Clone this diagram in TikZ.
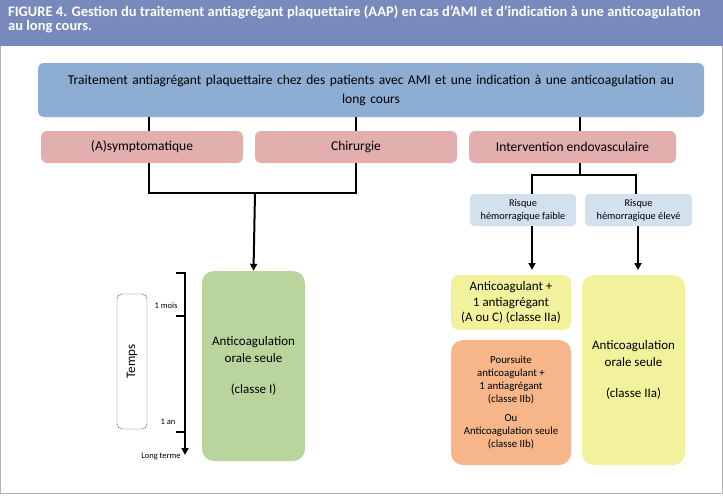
\documentclass[tikz,border=0pt]{standalone}
\usepackage{fontspec}
\setmainfont{Carlito}
\usetikzlibrary{arrows.meta}
\definecolor{hdr}{HTML}{7889BC}
\definecolor{topc}{HTML}{8EADD3}
\definecolor{pinkc}{HTML}{E2AEAE}
\definecolor{bluec}{HTML}{D3E0EE}
\definecolor{yelc}{HTML}{F2F19C}
\definecolor{orac}{HTML}{F6B68A}
\definecolor{grnc}{HTML}{B9D49C}
\tikzset{
 box/.style={rounded corners=6pt,draw=none,align=center,inner sep=2pt},
 ln/.style={line width=2pt},
 ar/.style={line width=2pt,-{Triangle[length=7pt,width=7pt]}},
}
\begin{document}
\begin{tikzpicture}[x=1pt,y=-1pt]
\useasboundingbox (0,0) rectangle (723,498);
\fill[white] (0,0) rectangle (723,498);
\fill[hdr] (0,0) rectangle (723,46);
\draw[gray!60] (0.5,46) -- (0.5,493.5) -- (722.5,493.5) -- (722.5,46);
\node[anchor=north west,text=white,font=\bfseries\fontsize{14.5}{12}\selectfont,align=left,inner sep=0pt] (title) at (8,6) {FIGURE 4. Gestion du traitement antiagrégant plaquettaire (AAP) en cas d’AMI et d’indication à une anticoagulation\\au long cours.};
% top
\node[box,fill=topc,minimum width=666,minimum height=54,text width=650,font=\fontsize{13.5}{19}\selectfont] (top) at (371,90) {Traitement antiagrégant plaquettaire chez des patients avec AMI et une indication à une anticoagulation au\\long cours};
\tikzset{pk/.style={box,fill=pinkc,minimum height=32,font=\fontsize{13.5}{14}\selectfont}}
\node[pk,minimum width=202] (a) at (142,147) {(A)symptomatique};
\node[pk,minimum width=202] (c) at (356,147) {Chirurgie};
\node[pk,minimum width=207] (e) at (572.5,147) {Intervention endovasculaire};
\draw[ln] (149,117) -- (149,131);
\draw[ln] (356,117) -- (356,131);
\draw[ln] (580,117) -- (580,131);
% left junction
\coordinate (j1) at (149,193);
\coordinate (j2) at (356,193);
\draw[ln] (149,163) -- (j1) -- (j2) -- (356,163);
\node[box,fill=grnc,minimum width=103,minimum height=190,rounded corners=12pt,font=\fontsize{13}{17}\selectfont] (g) at (253.5,366) {Anticoagulation\\orale seule\\[14pt](classe I)};
\draw[ar] (255,193) -- (g.north);
% right
\tikzset{rk/.style={box,fill=bluec,minimum height=32,minimum width=106,font=\fontsize{10.3}{13}\selectfont,rounded corners=4pt}}
\node[rk] (rf) at (523,210) {Risque\\hémorragique faible};
\node[rk,minimum width=107] (re) at (638.5,210) {Risque\\hémorragique élevé};
\draw[ln] (580,163) -- (580,175) (532,194) -- (532,175) -- (636,175) -- (636,194);
\node[box,fill=yelc,minimum width=120,minimum height=55,rounded corners=8pt,font=\fontsize{13}{15.5}\selectfont] (y1) at (511,302.5) {Anticoagulant +\\1 antiagrégant\\(A ou C) (classe IIa)};
\node[box,fill=orac,minimum width=120,minimum height=125,rounded corners=12pt,font=\fontsize{10.8}{13}\selectfont] (o) at (511,402.5) {Poursuite\\anticoagulant +\\1 antiagrégant\\(classe IIb)\\[6pt]Ou\\Anticoagulation seule\\(classe IIb)};
\node[box,fill=yelc,minimum width=103,minimum height=190,rounded corners=12pt,font=\fontsize{13}{17}\selectfont] (y2) at (633.5,370) {Anticoagulation\\orale seule\\[14pt](classe IIa)};
\draw[ar] (532,226) -- (532,270);
\draw[ar] (638,226) -- (638,270);
% timeline
\coordinate (t0) at (185,272);
\coordinate (t1) at (185,455);
\draw[ar,line width=1.8pt] (t0) -- (t1);
\draw[ln] (176,273) -- (185,273) (176,316) -- (185,316) (176,432) -- (185,432);
\node[font=\fontsize{8.5}{9}\selectfont] (m1) at (166,306) {1 mois};
\node[font=\fontsize{8.5}{9}\selectfont] (m2) at (168,422) {1 an};
\node[font=\fontsize{8.5}{9}\selectfont] (m3) at (161,456) {Long terme};
\node[draw=hdr!70!black,rounded corners=5pt,minimum width=30,minimum height=135,inner sep=0pt] (tb) at (132,361.5) {};
\node[rotate=90,font=\fontsize{13}{13}\selectfont] (tt) at (tb.center) {Temps};
\end{tikzpicture}
\end{document}
